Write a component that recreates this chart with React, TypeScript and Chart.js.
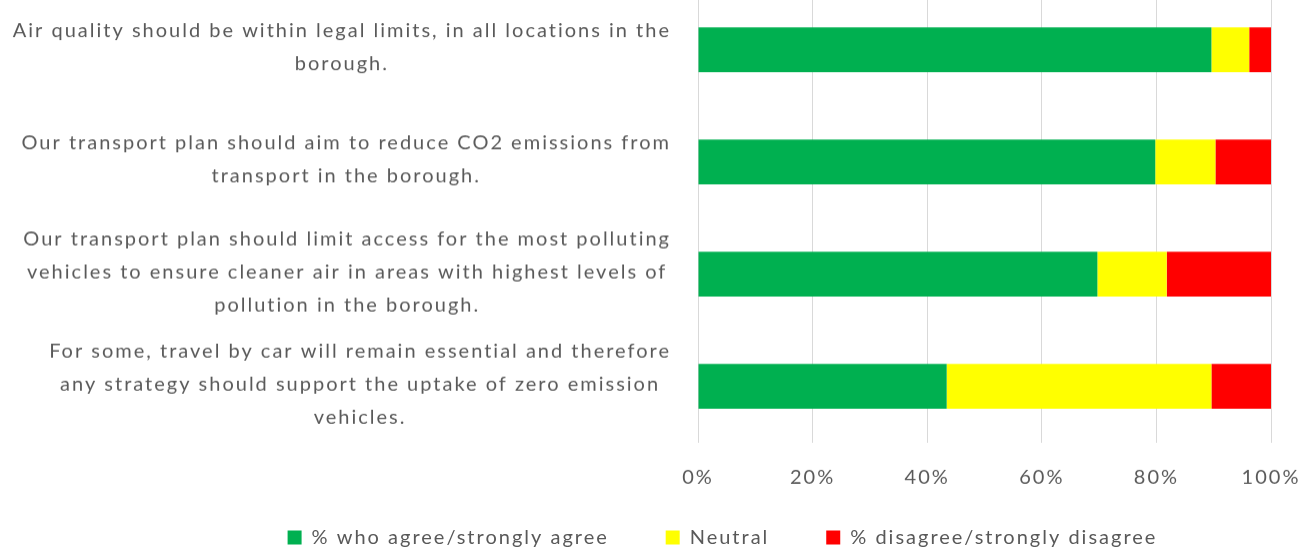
import React, { useEffect, useRef } from "react";
import { Chart, registerables } from "chart.js";

Chart.register(...registerables);

const categories: string[][] = [
  ["Air quality should be within legal limits, in all locations in the", "borough."],
  ["Our transport plan should aim to reduce CO2 emissions from", "transport in the borough."],
  [
    "Our transport plan should limit access for the most polluting",
    "vehicles to ensure cleaner air in areas with highest levels of",
    "pollution in the borough.",
  ],
  [
    "For some, travel by car will remain essential and therefore",
    "any strategy should support the uptake of zero emission",
    "vehicles.",
  ],
];

const seriesNames = ["% who agree/strongly agree", "Neutral", "% disagree/strongly disagree"];
const agree = [89.6, 79.8, 69.7, 43.4];
const neutral = [6.6, 10.5, 12.1, 46.2];
const disagree = [3.8, 9.7, 18.2, 10.4];
const xTicks = [0, 20, 40, 60, 80, 100];

const COLORS = ["#00B050", "#FFFF00", "#FF0000"];
const TEXT = "#595959";
const FONT = "Lato";
const FONT_SIZE = 20;
const SPACING = "2px";
const LABEL_RIGHT = 671;
const LINE_H = 33;
const LABEL_SHIFT = -2.5;
const LEGEND_GAP = "      ";

const spacingPlugin = {
  id: "letterSpacing",
  beforeLayout(chart: any) {
    chart.ctx.letterSpacing = SPACING;
  },
  beforeDraw(chart: any) {
    chart.ctx.letterSpacing = SPACING;
  },
};

const yLabelPlugin = {
  id: "yLabelsCentered",
  afterDraw(chart: any) {
    const { ctx } = chart;
    const y = chart.scales.y;
    ctx.save();
    ctx.letterSpacing = SPACING;
    ctx.font = `${FONT_SIZE}px ${FONT}`;
    ctx.fillStyle = TEXT;
    ctx.textAlign = "center";
    ctx.textBaseline = "middle";
    categories.forEach((lines, i) => {
      const cy = y.getPixelForValue(i) + LABEL_SHIFT;
      const widest = Math.max(...lines.map((l) => ctx.measureText(l).width));
      const cx = LABEL_RIGHT - widest / 2;
      lines.forEach((line, j) => {
        ctx.fillText(line, cx, cy + (j - (lines.length - 1) / 2) * LINE_H);
      });
    });
    ctx.restore();
  },
};

export default function App() {
  const ref = useRef<HTMLCanvasElement | null>(null);

  useEffect(() => {
    if (!ref.current) return;
    const data = [agree, neutral, disagree];
    const chart = new Chart(ref.current, {
      type: "bar",
      data: {
        labels: categories,
        datasets: seriesNames.map((name, i) => ({
          label: name,
          data: data[i],
          backgroundColor: COLORS[i],
          borderWidth: 0,
          barPercentage: 0.4,
          categoryPercentage: 1,
        })),
      },
      options: {
        indexAxis: "y",
        animation: false,
        responsive: true,
        maintainAspectRatio: false,
        layout: { padding: { top: 13.6, right: 45, bottom: 0, left: 174 } },
        scales: {
          x: {
            stacked: true,
            min: 0,
            max: 100,
            afterBuildTicks: (s: any) => {
              s.ticks = xTicks.map((v) => ({ value: v }));
            },
            ticks: {
              callback: (v: any) => `${v}%`,
              color: TEXT,
              font: { family: FONT, size: FONT_SIZE, lineHeight: 70.6 / FONT_SIZE },
              padding: 0,
              maxRotation: 0,
            },
            grid: { color: "#D9D9D9", lineWidth: 1, drawTicks: false },
            border: { display: false },
          },
          y: {
            stacked: true,
            afterFit: (s: any) => {
              s.width = 698 - 174;
            },
            ticks: { display: false },
            grid: { display: false, drawTicks: false },
            border: { display: false },
          },
        },
        plugins: {
          legend: {
            position: "bottom",
            labels: {
              color: TEXT,
              font: { family: FONT, size: FONT_SIZE },
              boxWidth: 14,
              boxHeight: 14,
              padding: 14.2,
              generateLabels: (c: any) => {
                const items = Chart.defaults.plugins.legend.labels.generateLabels(c);
                return items.map((it: any, i: number) => ({
                  ...it,
                  text: i < items.length - 1 ? it.text + LEGEND_GAP : it.text,
                }));
              },
            },
          },
          tooltip: { enabled: false },
        },
      },
      plugins: [spacingPlugin, yLabelPlugin],
    });
    return () => chart.destroy();
  }, []);

  return (
    <div style={{ position: "fixed", left: 0, top: -20, width: 1316, height: 576.5 }}>
      <canvas ref={ref} />
    </div>
  );
}
